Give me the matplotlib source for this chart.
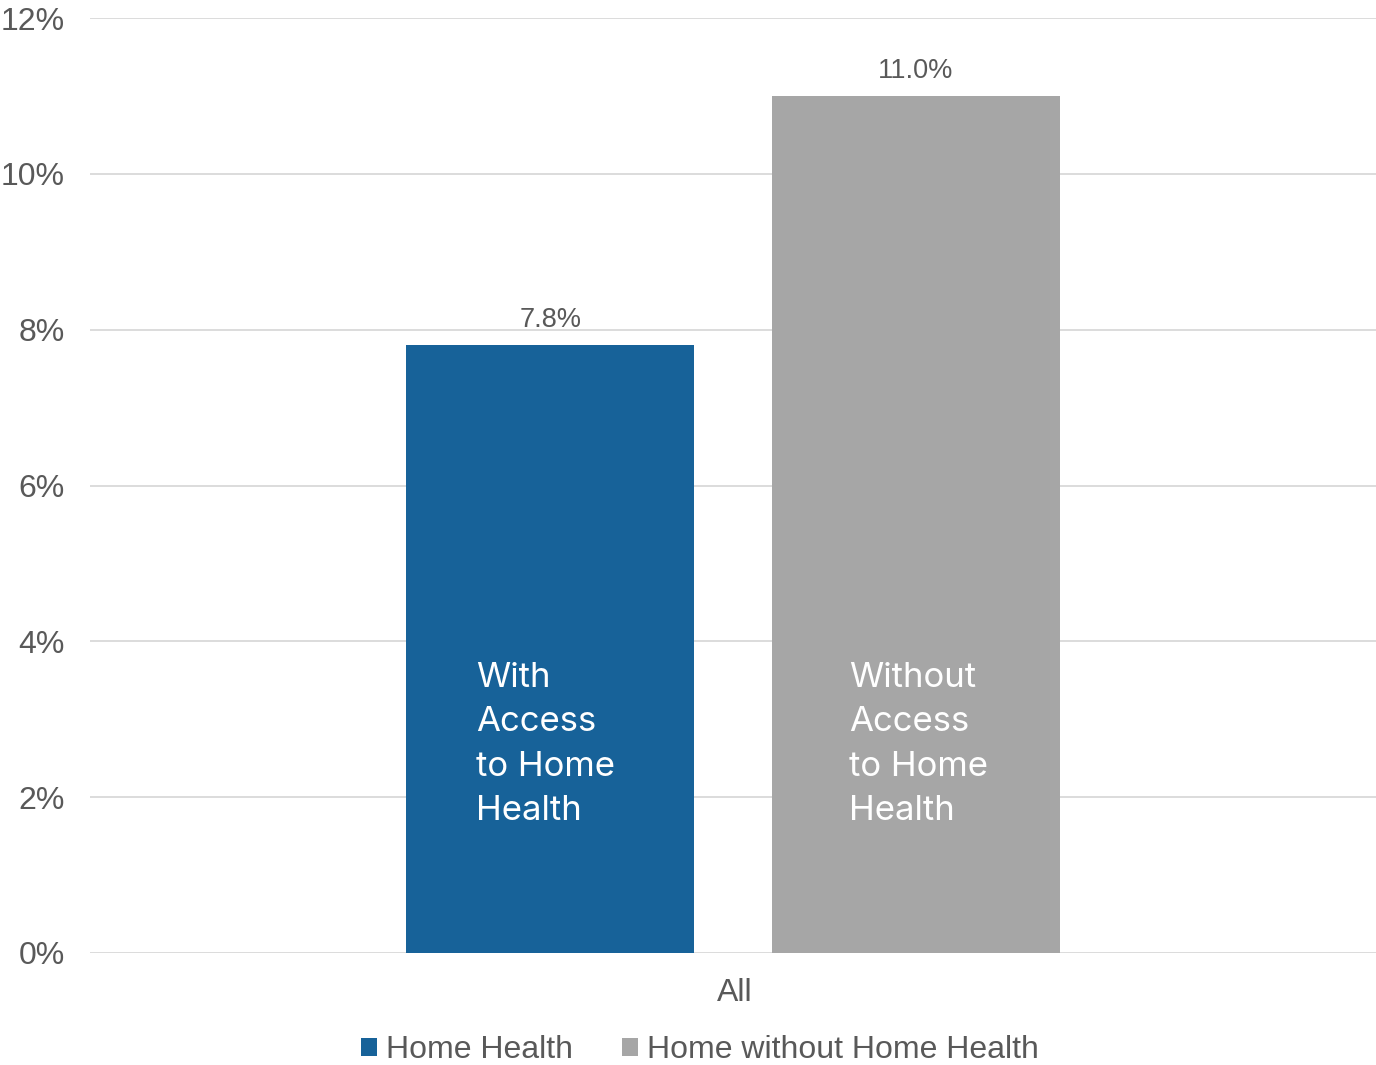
import matplotlib
matplotlib.use("Agg")
import matplotlib.pyplot as plt
from matplotlib.patches import Patch
from matplotlib.ticker import FuncFormatter

category = ["All"]
series_names = ["Home Health", "Home without Home Health"]
series_values = [7.8, 11.0]
inner_labels = ["With\nAccess\nto Home\nHealth", "Without\nAccess\nto Home\nHealth"]
y_ticks = [0, 2, 4, 6, 8, 10, 12]
colors = ["#176299", "#A6A6A6"]
text_color = "#595959"

plt.rcParams["font.family"] = ["Liberation Sans", "DejaVu Sans"]

fig = plt.figure(figsize=(13.76, 10.65), dpi=100)
ax = fig.add_axes([90/1376, 1-953/1065, 1-90/1376, (953-18)/1065])

width = 0.224
offsets = [-0.142, 0.142]
label_pad = [0.0544, 0.060]
for i, (name, val) in enumerate(zip(series_names, series_values)):
    x = offsets[i]
    ax.bar(x, val, width=width, color=colors[i], zorder=2)
    ax.annotate(f"{val:.1f}%", (x, val), xytext=(0, 18), textcoords="offset points",
                ha="center", va="center", fontsize=19.5, color=text_color)
    ax.text(x - width/2 + label_pad[i], 3.74, inner_labels[i], ha="left", va="top",
            fontsize=25, color="white", family=["Inter", "DejaVu Sans"], linespacing=1.5,
            zorder=3)

ax.set_xlim(-0.5, 0.5)
ax.set_ylim(0, 12)
ax.set_yticks(y_ticks)
ax.yaxis.set_major_formatter(FuncFormatter(lambda v, p: f"{v:.0f}%"))
ax.set_xticks([0.0015])
ax.set_xticklabels(category)
ax.tick_params(axis="both", length=0, labelsize=23, colors=text_color)
ax.tick_params(axis="y", pad=18.2)
ax.tick_params(axis="x", pad=18)
ax.grid(axis="y", color="#D9D9D9", linewidth=1.3, zorder=0)
ax.set_axisbelow(True)
for s in ax.spines.values():
    s.set_visible(False)

handles = [Patch(facecolor=c, edgecolor="none") for c in colors]
fig.legend(handles, series_names, loc="center", bbox_to_anchor=(700/1376, 1-1050/1065),
           ncol=2, frameon=False, fontsize=23, labelcolor=text_color,
           handlelength=0.5, handleheight=0.5, handletextpad=0.28, columnspacing=1.55)

fig.savefig("out.png", dpi=100)
